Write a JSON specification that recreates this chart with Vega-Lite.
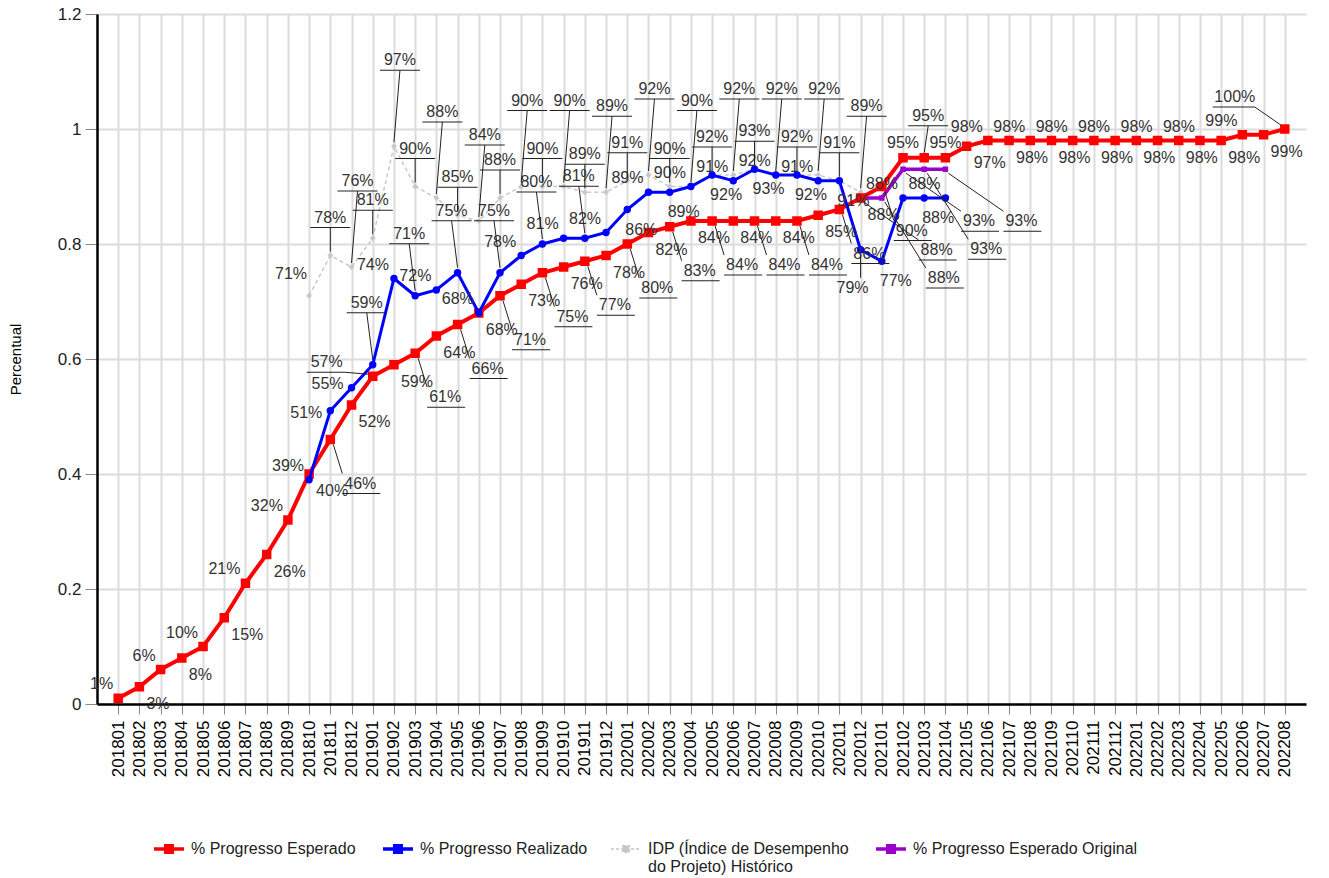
{
  "$schema": "https://vega.github.io/schema/vega-lite/v6.json",
  "width": 1209,
  "height": 690,
  "autosize": {"type": "none"},
  "padding": {"left": 97, "top": 14, "right": 23, "bottom": 174},
  "background": "white",
  "config": {
    "font": "Liberation Sans",
    "view": {"stroke": null},
    "legend": {"padding": 0},
    "text": {"fontSize": 16, "baseline": "middle"},
    "rule": {"strokeWidth": 1}
  },
  "data": {
    "values": [
      {"m": "201801", "s": "E", "v": 0.01}, {"m": "201802", "s": "E", "v": 0.03}, {"m": "201803", "s": "E", "v": 0.06},
      {"m": "201804", "s": "E", "v": 0.08}, {"m": "201805", "s": "E", "v": 0.10}, {"m": "201806", "s": "E", "v": 0.15},
      {"m": "201807", "s": "E", "v": 0.21}, {"m": "201808", "s": "E", "v": 0.26}, {"m": "201809", "s": "E", "v": 0.32},
      {"m": "201810", "s": "E", "v": 0.40}, {"m": "201811", "s": "E", "v": 0.46}, {"m": "201812", "s": "E", "v": 0.52},
      {"m": "201901", "s": "E", "v": 0.57}, {"m": "201902", "s": "E", "v": 0.59}, {"m": "201903", "s": "E", "v": 0.61},
      {"m": "201904", "s": "E", "v": 0.64}, {"m": "201905", "s": "E", "v": 0.66}, {"m": "201906", "s": "E", "v": 0.68},
      {"m": "201907", "s": "E", "v": 0.71}, {"m": "201908", "s": "E", "v": 0.73}, {"m": "201909", "s": "E", "v": 0.75},
      {"m": "201910", "s": "E", "v": 0.76}, {"m": "201911", "s": "E", "v": 0.77}, {"m": "201912", "s": "E", "v": 0.78},
      {"m": "202001", "s": "E", "v": 0.80}, {"m": "202002", "s": "E", "v": 0.82}, {"m": "202003", "s": "E", "v": 0.83},
      {"m": "202004", "s": "E", "v": 0.84}, {"m": "202005", "s": "E", "v": 0.84}, {"m": "202006", "s": "E", "v": 0.84},
      {"m": "202007", "s": "E", "v": 0.84}, {"m": "202008", "s": "E", "v": 0.84}, {"m": "202009", "s": "E", "v": 0.84},
      {"m": "202010", "s": "E", "v": 0.85}, {"m": "202011", "s": "E", "v": 0.86}, {"m": "202012", "s": "E", "v": 0.88},
      {"m": "202101", "s": "E", "v": 0.90}, {"m": "202102", "s": "E", "v": 0.95}, {"m": "202103", "s": "E", "v": 0.95},
      {"m": "202104", "s": "E", "v": 0.95}, {"m": "202105", "s": "E", "v": 0.97}, {"m": "202106", "s": "E", "v": 0.98},
      {"m": "202107", "s": "E", "v": 0.98}, {"m": "202108", "s": "E", "v": 0.98}, {"m": "202109", "s": "E", "v": 0.98},
      {"m": "202110", "s": "E", "v": 0.98}, {"m": "202111", "s": "E", "v": 0.98}, {"m": "202112", "s": "E", "v": 0.98},
      {"m": "202201", "s": "E", "v": 0.98}, {"m": "202202", "s": "E", "v": 0.98}, {"m": "202203", "s": "E", "v": 0.98},
      {"m": "202204", "s": "E", "v": 0.98}, {"m": "202205", "s": "E", "v": 0.98}, {"m": "202206", "s": "E", "v": 0.99},
      {"m": "202207", "s": "E", "v": 0.99}, {"m": "202208", "s": "E", "v": 1.00},
      {"m": "201810", "s": "R", "v": 0.39}, {"m": "201811", "s": "R", "v": 0.51}, {"m": "201812", "s": "R", "v": 0.55},
      {"m": "201901", "s": "R", "v": 0.59}, {"m": "201902", "s": "R", "v": 0.74}, {"m": "201903", "s": "R", "v": 0.71},
      {"m": "201904", "s": "R", "v": 0.72}, {"m": "201905", "s": "R", "v": 0.75}, {"m": "201906", "s": "R", "v": 0.68},
      {"m": "201907", "s": "R", "v": 0.75}, {"m": "201908", "s": "R", "v": 0.78}, {"m": "201909", "s": "R", "v": 0.80},
      {"m": "201910", "s": "R", "v": 0.81}, {"m": "201911", "s": "R", "v": 0.81}, {"m": "201912", "s": "R", "v": 0.82},
      {"m": "202001", "s": "R", "v": 0.86}, {"m": "202002", "s": "R", "v": 0.89}, {"m": "202003", "s": "R", "v": 0.89},
      {"m": "202004", "s": "R", "v": 0.90}, {"m": "202005", "s": "R", "v": 0.92}, {"m": "202006", "s": "R", "v": 0.91},
      {"m": "202007", "s": "R", "v": 0.93}, {"m": "202008", "s": "R", "v": 0.92}, {"m": "202009", "s": "R", "v": 0.92},
      {"m": "202010", "s": "R", "v": 0.91}, {"m": "202011", "s": "R", "v": 0.91}, {"m": "202012", "s": "R", "v": 0.79},
      {"m": "202101", "s": "R", "v": 0.77}, {"m": "202102", "s": "R", "v": 0.88}, {"m": "202103", "s": "R", "v": 0.88},
      {"m": "202104", "s": "R", "v": 0.88},
      {"m": "201810", "s": "I", "v": 0.71}, {"m": "201811", "s": "I", "v": 0.78}, {"m": "201812", "s": "I", "v": 0.76},
      {"m": "201901", "s": "I", "v": 0.81}, {"m": "201902", "s": "I", "v": 0.97}, {"m": "201903", "s": "I", "v": 0.90},
      {"m": "201904", "s": "I", "v": 0.88}, {"m": "201905", "s": "I", "v": 0.85}, {"m": "201906", "s": "I", "v": 0.84},
      {"m": "201907", "s": "I", "v": 0.88}, {"m": "201908", "s": "I", "v": 0.90}, {"m": "201909", "s": "I", "v": 0.90},
      {"m": "201910", "s": "I", "v": 0.90}, {"m": "201911", "s": "I", "v": 0.89}, {"m": "201912", "s": "I", "v": 0.89},
      {"m": "202001", "s": "I", "v": 0.91}, {"m": "202002", "s": "I", "v": 0.92}, {"m": "202003", "s": "I", "v": 0.90},
      {"m": "202004", "s": "I", "v": 0.90}, {"m": "202005", "s": "I", "v": 0.92}, {"m": "202006", "s": "I", "v": 0.92},
      {"m": "202007", "s": "I", "v": 0.93}, {"m": "202008", "s": "I", "v": 0.92}, {"m": "202009", "s": "I", "v": 0.92},
      {"m": "202010", "s": "I", "v": 0.92}, {"m": "202011", "s": "I", "v": 0.91}, {"m": "202012", "s": "I", "v": 0.89},
      {"m": "202012", "s": "O", "v": 0.88}, {"m": "202101", "s": "O", "v": 0.88}, {"m": "202102", "s": "O", "v": 0.93},
      {"m": "202103", "s": "O", "v": 0.93}, {"m": "202104", "s": "O", "v": 0.93}
    ]
  },
  "encoding": {
    "x": {
      "field": "m", "type": "ordinal",
      "scale": {"type": "point", "padding": 1},
      "axis": {
        "title": null, "labelAngle": -90, "labelFontSize": 17, "labelColor": "#000",
        "tickColor": "#888", "tickSize": 10, "labelPadding": 6,
        "domainColor": "#000", "domainWidth": 2.5,
        "grid": true, "gridColor": "#dcdcdc", "gridWidth": 2
      }
    },
    "y": {
      "field": "v", "type": "quantitative",
      "scale": {"domain": [0, 1.2], "nice": false},
      "axis": {
        "title": "Percentual", "values": [0, 0.2, 0.4, 0.6, 0.8, 1, 1.2], "format": ".1~f",
        "labelFontSize": 17, "labelColor": "#222", "labelPadding": 4,
        "tickSize": 12, "tickColor": "#888",
        "domainColor": "#000", "domainWidth": 2.5,
        "grid": true, "gridColor": "#dcdcdc", "gridWidth": 2,
        "titleFontSize": 15, "titleFontWeight": "normal", "titleColor": "#000", "titlePadding": 34
      }
    },
    "color": {
      "field": "s", "type": "nominal",
      "scale": {"domain": ["E", "R", "I", "O"], "range": ["#ff0000", "#0000ff", "#c8c8c8", "#9900cc"]},
      "legend": {
        "orient": "none", "direction": "horizontal", "columns": 4, "gridAlign": "none",
        "legendX": 64, "legendY": 827, "title": null,
        "labelFontSize": 16, "labelColor": "#222", "labelOffset": 14, "labelLimit": 400,
        "columnPadding": 20,
        "symbolType": "M-1,0L1,0M-0.22,-0.22L0.22,-0.22L0.22,0.22L-0.22,0.22Z",
        "symbolSize": 900, "symbolStrokeWidth": 3.5,
        "labelExpr": "datum.value == 'E' ? '% Progresso Esperado' : datum.value == 'R' ? '% Progresso Realizado' : datum.value == 'I' ? ['IDP (Índice de Desempenho', 'do Projeto) Histórico'] : '% Progresso Esperado Original'",
        "encode": {
          "symbols": {
            "update": {
              "fill": {"scale": "color", "field": "value"},
              "strokeDash": {"signal": "datum.value == 'I' ? [3, 2] : []"},
              "strokeWidth": {"signal": "datum.value == 'I' ? 1.5 : 3.5"}
            }
          }
        }
      }
    }
  },
  "layer": [
    {"transform": [{"filter": "datum.s == 'I'"}], "mark": {"type": "line", "strokeWidth": 1.5, "strokeDash": [4, 3]}},
    {"transform": [{"filter": "datum.s == 'I'"}], "mark": {"type": "point", "shape": "diamond", "filled": true, "size": 35, "opacity": 1}},
    {"transform": [{"filter": "datum.s == 'O'"}], "mark": {"type": "line", "strokeWidth": 3.5}},
    {"transform": [{"filter": "datum.s == 'O'"}], "mark": {"type": "point", "shape": "square", "filled": true, "size": 30, "opacity": 1}},
    {"transform": [{"filter": "datum.s == 'E'"}], "mark": {"type": "line", "strokeWidth": 4}},
    {"transform": [{"filter": "datum.s == 'E'"}], "mark": {"type": "point", "shape": "square", "filled": true, "size": 90, "opacity": 1}},
    {"transform": [{"filter": "datum.s == 'R'"}], "mark": {"type": "line", "strokeWidth": 3}},
    {"transform": [{"filter": "datum.s == 'R'"}], "mark": {"type": "point", "shape": "circle", "filled": true, "size": 55, "opacity": 1}},

    {
      "transform": [{"filter": "datum.s == 'E' && datum.m != '202208' && ((datum.m < '201810' && toNumber(substring(datum.m, 4, 6)) % 2 == 1) || (datum.m > '202104' && toNumber(substring(datum.m, 4, 6)) % 2 == 0))"}],
      "mark": {"type": "text", "align": "right", "dx": -5, "dy": -14},
      "encoding": {"text": {"field": "v", "format": ".0%"}, "color": {"value": "#333"}}
    },
    {
      "transform": [{"filter": "datum.s == 'E' && datum.m == '202208'"}],
      "mark": {"type": "text", "align": "center", "dx": -50, "dy": -32},
      "encoding": {"text": {"field": "v", "format": ".0%"}, "color": {"value": "#333"}}
    },
    {
      "transform": [{"filter": "datum.s == 'E' && datum.m == '202208'"}],
      "mark": {"type": "rule", "xOffset": -4, "yOffset": -4, "x2Offset": -30, "y2Offset": -22},
      "encoding": {"x2": {"field": "m"}, "y2": {"field": "v"}, "color": {"value": "#222"}}
    },
    {
      "transform": [{"filter": "datum.s == 'E' && datum.m == '202208'"}],
      "mark": {"type": "rule", "xOffset": -72, "yOffset": -22, "x2Offset": -30, "y2Offset": -22},
      "encoding": {"x2": {"field": "m"}, "y2": {"field": "v"}, "color": {"value": "#222"}}
    },
    {
      "transform": [{"filter": "datum.s == 'E' && ((datum.m <= '202104' && toNumber(substring(datum.m, 4, 6)) % 2 == 0 && datum.m != '202102' && datum.m != '202104') || (datum.m > '202104' && toNumber(substring(datum.m, 4, 6)) % 2 == 1))"}],
      "mark": {"type": "text", "align": "left", "dx": 7, "dy": 17},
      "encoding": {"text": {"field": "v", "format": ".0%"}, "color": {"value": "#333"}}
    },
    {
      "transform": [{"filter": "datum.s == 'E' && (datum.m == '202102' || datum.m == '202104')"}],
      "mark": {"type": "text", "align": "center", "dx": 0, "dy": -15},
      "encoding": {"text": {"field": "v", "format": ".0%"}, "color": {"value": "#333"}}
    },
    {
      "transform": [{"filter": "datum.s == 'E' && datum.m == '202103'"}],
      "mark": {"type": "text", "align": "center", "dx": 4, "dy": -42},
      "encoding": {"text": {"field": "v", "format": ".0%"}, "color": {"value": "#333"}}
    },
    {
      "transform": [{"filter": "datum.s == 'E' && datum.m == '202103'"}],
      "mark": {"type": "rule", "xOffset": 0, "yOffset": -5, "x2Offset": 4, "y2Offset": -32},
      "encoding": {"x2": {"field": "m"}, "y2": {"field": "v"}, "color": {"value": "#222"}}
    },
    {
      "transform": [{"filter": "datum.s == 'E' && datum.m == '202103'"}],
      "mark": {"type": "rule", "xOffset": -16, "yOffset": -32, "x2Offset": 24, "y2Offset": -32},
      "encoding": {"x2": {"field": "m"}, "y2": {"field": "v"}, "color": {"value": "#222"}}
    },
    {
      "transform": [{"filter": "datum.s == 'E' && datum.m == '201901'"}],
      "mark": {"type": "text", "align": "right", "dx": -30, "dy": -14},
      "encoding": {"text": {"field": "v", "format": ".0%"}, "color": {"value": "#333"}}
    },
    {
      "transform": [{"filter": "datum.s == 'E' && datum.m == '201901'"}],
      "mark": {"type": "rule", "xOffset": -4, "yOffset": -2, "x2Offset": -28, "y2Offset": -4},
      "encoding": {"x2": {"field": "m"}, "y2": {"field": "v"}, "color": {"value": "#222"}}
    },
    {
      "transform": [{"filter": "datum.s == 'E' && datum.m == '201901'"}],
      "mark": {"type": "rule", "xOffset": -66, "yOffset": -4, "x2Offset": -28, "y2Offset": -4},
      "encoding": {"x2": {"field": "m"}, "y2": {"field": "v"}, "color": {"value": "#222"}}
    },
    {
      "transform": [{"filter": "datum.s == 'E' && datum.m >= '201810' && datum.m <= '202101' && datum.m != '201901' && toNumber(substring(datum.m, 4, 6)) % 2 == 1"}],
      "mark": {"type": "text", "align": "left", "dx": 14, "dy": 44},
      "encoding": {"text": {"field": "v", "format": ".0%"}, "color": {"value": "#333"}}
    },
    {
      "transform": [{"filter": "datum.s == 'E' && datum.m >= '201810' && datum.m <= '202101' && datum.m != '201901' && toNumber(substring(datum.m, 4, 6)) % 2 == 1"}],
      "mark": {"type": "rule", "xOffset": 3, "yOffset": 5, "x2Offset": 12, "y2Offset": 34},
      "encoding": {"x2": {"field": "m"}, "y2": {"field": "v"}, "color": {"value": "#222"}}
    },
    {
      "transform": [{"filter": "datum.s == 'E' && datum.m >= '201810' && datum.m <= '202101' && datum.m != '201901' && toNumber(substring(datum.m, 4, 6)) % 2 == 1"}],
      "mark": {"type": "rule", "xOffset": 12, "yOffset": 54, "x2Offset": 50, "y2Offset": 54},
      "encoding": {"x2": {"field": "m"}, "y2": {"field": "v"}, "color": {"value": "#222"}}
    },

    {
      "transform": [{"filter": "datum.s == 'R' && toNumber(substring(datum.m, 4, 6)) % 2 == 0 && datum.m != '202012' && datum.m != '201812'"}],
      "mark": {"type": "text", "align": "right", "dx": -5, "dy": -14},
      "encoding": {"text": {"field": "v", "format": ".0%"}, "color": {"value": "#333"}}
    },
    {
      "transform": [{"filter": "datum.s == 'R' && datum.m == '201812'"}],
      "mark": {"type": "text", "align": "right", "dx": -8, "dy": -4},
      "encoding": {"text": {"field": "v", "format": ".0%"}, "color": {"value": "#333"}}
    },
    {
      "transform": [{"filter": "datum.s == 'R' && datum.m == '201811'"}],
      "mark": {"type": "text", "align": "right", "dx": -8, "dy": 2},
      "encoding": {"text": {"field": "v", "format": ".0%"}, "color": {"value": "#333"}}
    },
    {
      "transform": [{"filter": "datum.s == 'R' && toNumber(substring(datum.m, 4, 6)) % 2 == 1 && datum.m < '202001' && datum.m != '201811'"}],
      "mark": {"type": "text", "align": "center", "dx": -6, "dy": -62},
      "encoding": {"text": {"field": "v", "format": ".0%"}, "color": {"value": "#333"}}
    },
    {
      "transform": [{"filter": "datum.s == 'R' && toNumber(substring(datum.m, 4, 6)) % 2 == 1 && datum.m < '202001' && datum.m != '201811'"}],
      "mark": {"type": "rule", "xOffset": 0, "yOffset": -5, "x2Offset": -6, "y2Offset": -52},
      "encoding": {"x2": {"field": "m"}, "y2": {"field": "v"}, "color": {"value": "#222"}}
    },
    {
      "transform": [{"filter": "datum.s == 'R' && toNumber(substring(datum.m, 4, 6)) % 2 == 1 && datum.m < '202001' && datum.m != '201811'"}],
      "mark": {"type": "rule", "xOffset": -26, "yOffset": -52, "x2Offset": 14, "y2Offset": -52},
      "encoding": {"x2": {"field": "m"}, "y2": {"field": "v"}, "color": {"value": "#222"}}
    },
    {
      "transform": [{"filter": "datum.s == 'R' && toNumber(substring(datum.m, 4, 6)) % 2 == 1 && datum.m >= '202001'"}],
      "mark": {"type": "text", "align": "left", "dx": -2, "dy": 20},
      "encoding": {"text": {"field": "v", "format": ".0%"}, "color": {"value": "#333"}}
    },
    {
      "transform": [{"filter": "datum.s == 'R' && datum.m == '202012'"}],
      "mark": {"type": "text", "align": "center", "dx": -8, "dy": 38},
      "encoding": {"text": {"field": "v", "format": ".0%"}, "color": {"value": "#333"}}
    },
    {
      "transform": [{"filter": "datum.s == 'R' && datum.m == '202012'"}],
      "mark": {"type": "rule", "xOffset": 0, "yOffset": 5, "x2Offset": 0, "y2Offset": 28},
      "encoding": {"x2": {"field": "m"}, "y2": {"field": "v"}, "color": {"value": "#222"}}
    },

    {
      "transform": [{"filter": "datum.s == 'I' && datum.m == '201810'"}],
      "mark": {"type": "text", "align": "right", "dx": -2, "dy": -22},
      "encoding": {"text": {"field": "v", "format": ".0%"}, "color": {"value": "#333"}}
    },
    {
      "transform": [{"filter": "datum.s == 'I' && toNumber(substring(datum.m, 4, 6)) % 2 == 1"}],
      "mark": {"type": "text", "align": "center", "dx": 0, "dy": -38},
      "encoding": {"text": {"field": "v", "format": ".0%"}, "color": {"value": "#333"}}
    },
    {
      "transform": [{"filter": "datum.s == 'I' && toNumber(substring(datum.m, 4, 6)) % 2 == 1"}],
      "mark": {"type": "rule", "xOffset": 0, "yOffset": -4, "x2Offset": 0, "y2Offset": -28},
      "encoding": {"x2": {"field": "m"}, "y2": {"field": "v"}, "color": {"value": "#222"}}
    },
    {
      "transform": [{"filter": "datum.s == 'I' && toNumber(substring(datum.m, 4, 6)) % 2 == 1"}],
      "mark": {"type": "rule", "xOffset": -20, "yOffset": -28, "x2Offset": 20, "y2Offset": -28},
      "encoding": {"x2": {"field": "m"}, "y2": {"field": "v"}, "color": {"value": "#222"}}
    },
    {
      "transform": [{"filter": "datum.s == 'I' && toNumber(substring(datum.m, 4, 6)) % 2 == 0 && datum.m != '201810'"}],
      "mark": {"type": "text", "align": "center", "dx": 6, "dy": -86},
      "encoding": {"text": {"field": "v", "format": ".0%"}, "color": {"value": "#333"}}
    },
    {
      "transform": [{"filter": "datum.s == 'I' && toNumber(substring(datum.m, 4, 6)) % 2 == 0 && datum.m != '201810'"}],
      "mark": {"type": "rule", "xOffset": 0, "yOffset": -4, "x2Offset": 6, "y2Offset": -76},
      "encoding": {"x2": {"field": "m"}, "y2": {"field": "v"}, "color": {"value": "#222"}}
    },
    {
      "transform": [{"filter": "datum.s == 'I' && toNumber(substring(datum.m, 4, 6)) % 2 == 0 && datum.m != '201810'"}],
      "mark": {"type": "rule", "xOffset": -14, "yOffset": -76, "x2Offset": 26, "y2Offset": -76},
      "encoding": {"x2": {"field": "m"}, "y2": {"field": "v"}, "color": {"value": "#222"}}
    },

    {
      "transform": [{"filter": "datum.s == 'O' && toNumber(substring(datum.m, 4, 6)) % 2 == 0"}],
      "mark": {"type": "text", "align": "left", "dx": 60, "dy": 52},
      "encoding": {"text": {"field": "v", "format": ".0%"}, "color": {"value": "#333"}}
    },
    {
      "transform": [{"filter": "datum.s == 'O' && toNumber(substring(datum.m, 4, 6)) % 2 == 0"}],
      "mark": {"type": "rule", "xOffset": 3, "yOffset": 4, "x2Offset": 58, "y2Offset": 42},
      "encoding": {"x2": {"field": "m"}, "y2": {"field": "v"}, "color": {"value": "#222"}}
    },
    {
      "transform": [{"filter": "datum.s == 'O' && toNumber(substring(datum.m, 4, 6)) % 2 == 0"}],
      "mark": {"type": "rule", "xOffset": 58, "yOffset": 62, "x2Offset": 96, "y2Offset": 62},
      "encoding": {"x2": {"field": "m"}, "y2": {"field": "v"}, "color": {"value": "#222"}}
    },
    {
      "transform": [{"filter": "datum.s == 'O' && toNumber(substring(datum.m, 4, 6)) % 2 == 1"}],
      "mark": {"type": "text", "align": "left", "dx": 46, "dy": 80},
      "encoding": {"text": {"field": "v", "format": ".0%"}, "color": {"value": "#333"}}
    },
    {
      "transform": [{"filter": "datum.s == 'O' && toNumber(substring(datum.m, 4, 6)) % 2 == 1"}],
      "mark": {"type": "rule", "xOffset": 3, "yOffset": 4, "x2Offset": 44, "y2Offset": 70},
      "encoding": {"x2": {"field": "m"}, "y2": {"field": "v"}, "color": {"value": "#222"}}
    },
    {
      "transform": [{"filter": "datum.s == 'O' && toNumber(substring(datum.m, 4, 6)) % 2 == 1"}],
      "mark": {"type": "rule", "xOffset": 44, "yOffset": 90, "x2Offset": 82, "y2Offset": 90},
      "encoding": {"x2": {"field": "m"}, "y2": {"field": "v"}, "color": {"value": "#222"}}
    }
  ]
}
